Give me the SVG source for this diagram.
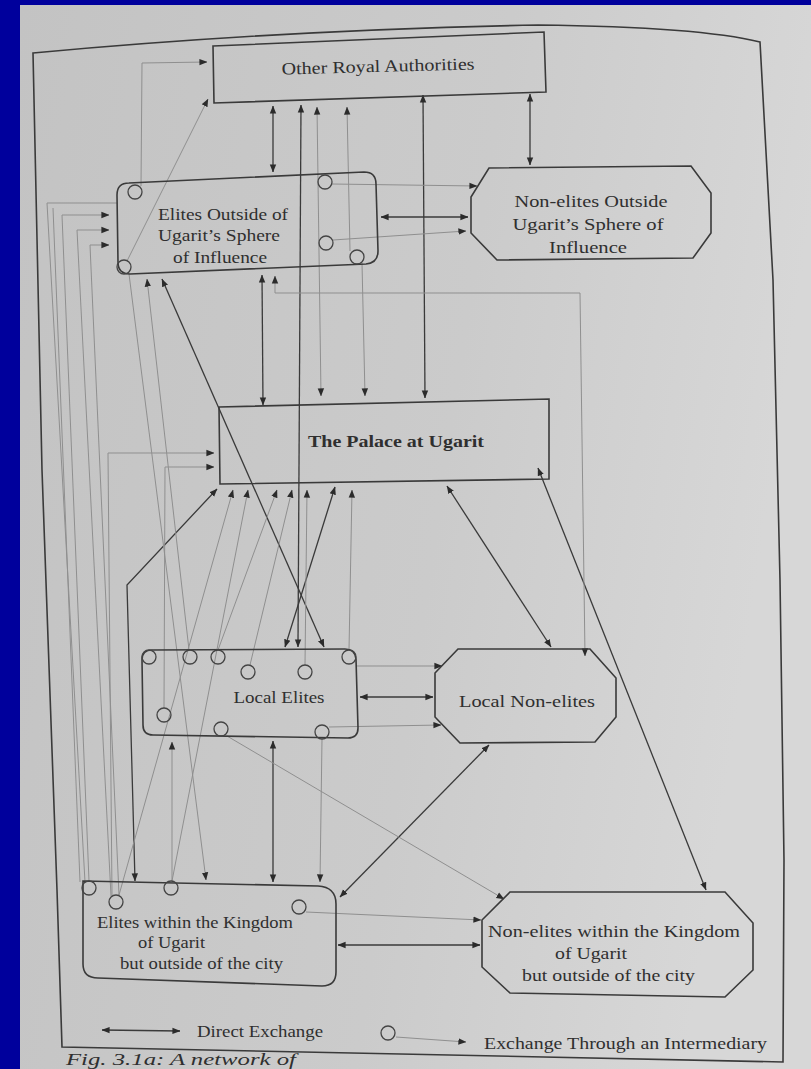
<svg xmlns="http://www.w3.org/2000/svg" width="811" height="1069" viewBox="0 0 811 1069">
<defs>
<linearGradient id="page" x1="0" y1="0" x2="1" y2="0.2">
<stop offset="0" stop-color="#c3c3c3"/>
<stop offset="0.6" stop-color="#cbcbcb"/>
<stop offset="1" stop-color="#d7d7d7"/>
</linearGradient>
<marker id="ah" viewBox="0 0 10 10" refX="9.5" refY="5" markerWidth="8" markerHeight="8" markerUnits="userSpaceOnUse" orient="auto-start-reverse">
<path d="M0,1 L10,5 L0,9 z" fill="#2b2b2b"/>
</marker>
<style>
.node{fill:none;stroke:#3a3a3a;stroke-width:1.6;}
.c{fill:none;stroke:#444;stroke-width:1.3;}
.d{fill:none;stroke:#3a3a3a;stroke-width:1.3;marker-start:url(#ah);marker-end:url(#ah);}
.g{fill:none;stroke:#8f8f8f;stroke-width:1;marker-end:url(#ah);}
.g2{fill:none;stroke:#8f8f8f;stroke-width:1;marker-start:url(#ah);marker-end:url(#ah);}
.gn{fill:none;stroke:#8f8f8f;stroke-width:1;}
text{font-family:"Liberation Serif","Times New Roman",serif;fill:#2f2f2f;font-size:17px;}
.b{font-weight:bold;}
</style>
</defs>
<rect x="0" y="0" width="811" height="1069" fill="#00009c"/>
<rect x="20" y="5" width="791" height="1064" fill="url(#page)"/>
<path d="M33,53 Q280,30 538,25 Q700,27 760,42 L773,280 L780,580 L784,860 L783,1062 L62,1047 L57,890 L42,470 Z" fill="none" stroke="#3a3a3a" stroke-width="1.6"/>

<g id="connectors">
<!-- direct exchange -->
<path class="d" d="M273,106 L273,172"/>
<path class="d" d="M530,94 L530,165"/>
<path class="d" d="M381,217 L468,217"/>
<path class="d" d="M262,275 L263,405"/>
<path class="d" d="M301,105 L298,647"/>
<path class="d" d="M162,279 L324,647"/>
<path class="d" d="M335,487 L285,647"/>
<path class="d" d="M423,95 L425,398"/>
<path class="d" d="M447,486 L551,647"/>
<path class="d" d="M538,468 L706,890"/>
<path class="d" d="M360,697 L433,697"/>
<path class="d" d="M273,741 L273,882"/>
<path class="d" d="M489,745 L340,897"/>
<path class="d" d="M338,945 L480,945"/>
<path class="d" d="M217,489 L127,585 L135,881"/>
<!-- exchange through an intermediary -->
<path class="g" d="M141,186 L142,63 L207,62"/>
<path class="g" d="M127,261 L208,99"/>
<path class="g" d="M129,274 L206,880"/>
<path class="g2" d="M317,107 L321,396"/>
<path class="g2" d="M347,107 L350,251 M362,263 L365,396"/>
<path class="g2" d="M275,276 L275,293 L580,293 L585,656"/>
<path class="g" d="M332,184 L477,186"/>
<path class="g" d="M333,240 L466,231"/>
<path class="g" d="M356,666 L442,666"/>
<path class="g" d="M329,727 L441,725"/>
<path class="g" d="M227,736 L504,899"/>
<path class="g" d="M306,912 L481,920"/>
<path class="g" d="M322,739 L320,882"/>
<path class="g" d="M172,881 L172,742"/>
<path class="g" d="M189,650 L147,279"/>
<path class="g" d="M164,708 L165,467 L214,467"/>
<path class="g" d="M112,896 L108,453 L214,453"/>
<path class="gn" d="M85,882 L47,203 L117,203"/>
<path class="g" d="M89,881 L62,215 L109,215"/>
<path class="g" d="M111,896 L77,230 L109,230"/>
<path class="g" d="M119,895 L90,245 L109,245"/>
<path class="gn" d="M80,882 L53,208"/>
<path class="g" d="M119,895 L233,490"/>
<path class="g" d="M172,881 L248,490"/>
<path class="g" d="M218,650 L277,490"/>
<path class="g" d="M250,665 L292,490"/>
<path class="g" d="M305,665 L307,490"/>
<path class="g" d="M349,650 L352,490"/>
</g>

<g id="ora">
<polygon class="node" points="213,46 544,32 546,92 214,103"/>
<text x="378" y="72" text-anchor="middle" textLength="193" lengthAdjust="spacingAndGlyphs" transform="rotate(-1.5 378 66)">Other Royal Authorities</text>
</g>

<g id="eos">
<path class="node" d="M129,183 L364,172 Q376,172 376,184 L378,251 Q378,263 366,264 L130,274 Q118,274 118,262 L117,195 Q117,183 129,183 Z"/>
<circle class="c" cx="135" cy="192" r="7"/>
<circle class="c" cx="325" cy="182" r="7"/>
<circle class="c" cx="326" cy="243" r="7"/>
<circle class="c" cx="357" cy="257" r="7"/>
<circle class="c" cx="124" cy="267" r="7"/>
<text x="223" y="220" text-anchor="middle" textLength="130" lengthAdjust="spacingAndGlyphs">Elites Outside of</text>
<text x="219" y="241" text-anchor="middle" textLength="122" lengthAdjust="spacingAndGlyphs">Ugarit’s Sphere</text>
<text x="220" y="263" text-anchor="middle" textLength="94" lengthAdjust="spacingAndGlyphs">of Influence</text>
</g>

<g id="neos">
<polygon class="node" points="489,168 691,166 711,193 711,233 693,258 497,260 471,233 471,197"/>
<text x="591" y="207" text-anchor="middle" textLength="153" lengthAdjust="spacingAndGlyphs">Non-elites Outside</text>
<text x="588" y="230" text-anchor="middle" textLength="151" lengthAdjust="spacingAndGlyphs">Ugarit’s Sphere of</text>
<text x="588" y="253" text-anchor="middle" textLength="78" lengthAdjust="spacingAndGlyphs">Influence</text>
</g>

<g id="palace">
<polygon class="node" points="219,407 549,399 549,479 220,484"/>
<text class="b" x="396" y="447" text-anchor="middle" textLength="176" lengthAdjust="spacingAndGlyphs">The Palace at Ugarit</text>
</g>

<g id="local-elites">
<path class="node" d="M152,650 L345,649 Q355,649 356,659 L358,728 Q358,738 348,738 L153,735 Q143,735 143,725 L142,660 Q142,650 152,650 Z"/>
<circle class="c" cx="149" cy="657" r="7"/>
<circle class="c" cx="190" cy="657" r="7"/>
<circle class="c" cx="218" cy="657" r="7"/>
<circle class="c" cx="248" cy="672" r="7"/>
<circle class="c" cx="305" cy="672" r="7"/>
<circle class="c" cx="349" cy="657" r="7"/>
<circle class="c" cx="164" cy="715" r="7"/>
<circle class="c" cx="221" cy="729" r="7"/>
<circle class="c" cx="322" cy="732" r="7"/>
<text x="279" y="703" text-anchor="middle" textLength="91" lengthAdjust="spacingAndGlyphs">Local Elites</text>
</g>

<g id="local-non-elites">
<polygon class="node" points="458,649 590,649 616,678 616,717 595,742 460,743 435,717 435,673"/>
<text x="527" y="707" text-anchor="middle" textLength="136" lengthAdjust="spacingAndGlyphs">Local Non-elites</text>
</g>

<g id="ewk">
<path class="node" d="M83,881 L318,886 Q336,887 336,904 L336,972 Q336,986 322,986 L98,978 Q83,978 83,964 Z"/>
<circle class="c" cx="89" cy="888" r="7"/>
<circle class="c" cx="116" cy="902" r="7"/>
<circle class="c" cx="171" cy="888" r="7"/>
<circle class="c" cx="299" cy="907" r="7"/>
<text x="97" y="928" textLength="196" lengthAdjust="spacingAndGlyphs">Elites within the Kingdom</text>
<text x="138" y="948" textLength="67" lengthAdjust="spacingAndGlyphs">of Ugarit</text>
<text x="120" y="969" textLength="163" lengthAdjust="spacingAndGlyphs">but outside of the city</text>
</g>

<g id="newk">
<polygon class="node" points="510,892 725,892 753,923 753,970 725,997 510,993 482,967 482,920"/>
<text x="488" y="937" textLength="252" lengthAdjust="spacingAndGlyphs">Non-elites within the Kingdom</text>
<text x="555" y="959" textLength="72" lengthAdjust="spacingAndGlyphs">of Ugarit</text>
<text x="522" y="981" textLength="173" lengthAdjust="spacingAndGlyphs">but outside of the city</text>
</g>

<g id="legend">
<path class="d" d="M102,1030 L180,1031"/>
<text x="197" y="1037" textLength="126" lengthAdjust="spacingAndGlyphs">Direct Exchange</text>
<circle class="c" cx="388" cy="1033" r="7"/>
<path class="g" d="M396,1037 L466,1042"/>
<text x="484" y="1049" textLength="283" lengthAdjust="spacingAndGlyphs">Exchange Through an Intermediary</text>
</g>

<text x="66" y="1065" font-style="italic" font-size="13" textLength="230" lengthAdjust="spacingAndGlyphs">Fig. 3.1a: A network of</text>
</svg>
